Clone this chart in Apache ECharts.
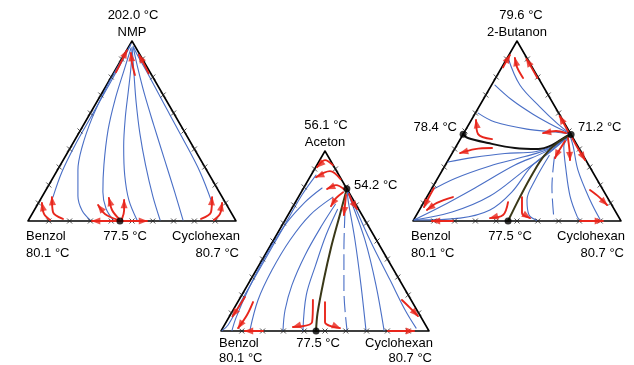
<!DOCTYPE html>
<html><head><meta charset="utf-8">
<script src="https://cdn.jsdelivr.net/npm/echarts@6/dist/echarts.min.js"></script>
<style>html,body{margin:0;padding:0;background:#fff}#c{width:634px;height:365px}</style>
</head><body><div id="c"></div><script>
// Coordinates: equilateral triangle of side 100 (x along base 0..100, y height 0..86.6)

// ---------- Triangle 1: Benzol / Cyclohexan / NMP ----------
const nmpBlue = [
  [[12.0,11.5],[16.3,23.6],[22.6,36.5],[30.8,51.0],[39.4,66.3],[46.6,79.3],[49.5,85.1]],
  [[29.8,0.5],[26.0,5.0],[24.0,12.0],[24.0,24.5],[26.0,35.6],[30.8,49.5],[37.5,63.9],[44.2,76.0],[49.0,84.1]],
  [[40.9,0.5],[37.5,6.0],[36.0,14.0],[36.5,27.0],[38.5,43.8],[41.8,58.2],[46.2,72.6],[49.5,83.2]],
  [[52.4,0.5],[48.5,10.0],[46.5,22.0],[46.0,36.0],[46.8,50.0],[48.3,63.0],[49.5,74.0],[50.0,82.5]],
  [[63.5,0.5],[60.0,12.0],[56.5,27.0],[53.8,42.0],[52.0,57.0],[51.0,70.0],[50.3,80.0],[50.0,83.5]],
  [[74.5,0.5],[70.5,14.0],[65.5,30.0],[60.5,46.0],[56.0,61.0],[52.8,73.5],[50.6,83.5]],
  [[88.5,8.7],[82.7,23.6],[74.0,40.4],[64.9,57.2],[57.7,70.7],[52.9,79.3],[50.5,84.1]]
];
const nmpRed = [
  [[10.6,0.5],[7.7,3.4],[6.7,8.7]],
  [[16.8,1.0],[12.0,4.3],[11.5,11.5]],
  [[44.2,0],[30.8,0]],
  [[44.2,0],[57.2,0]],
  [[43.3,0.5],[37.0,3.4],[33.7,7.7]],
  [[43.8,1.0],[40.4,5.3],[38.9,11.1]],
  [[45.2,1.0],[46.2,5.0],[46.2,10.1]],
  [[83.2,1.0],[88.0,4.3],[88.5,11.5]],
  [[89.4,0.5],[92.3,3.4],[93.3,8.7]],
  [[42.3,71.6],[45.2,77.4],[47.6,82.2]],
  [[51.4,70.2],[50.0,76.0],[49.5,80.8]],
  [[58.0,71.0],[55.5,76.0],[53.3,80.0]]
];
const nmpNodes = [[44.2,0]];

// ---------- Triangle 2: Benzol / Cyclohexan / Aceton ----------
const acetonBlue = [
  [[45.7,75.0],[38.9,65.4],[29.8,49.5],[20.2,32.7],[10.6,15.9],[3.4,2.9],[0.5,0.2]],
  [[48.6,68.8],[40.4,62.0],[30.8,51.0],[21.2,35.6],[13.0,19.7],[7.2,6.3],[5.3,0.3]],
  [[53.8,64.4],[42.8,55.8],[33.2,43.8],[24.5,29.3],[17.8,14.9],[13.9,0.3]],
  [[55.0,61.0],[48.6,51.0],[40.4,36.5],[34.1,22.1],[30.8,10.1],[29.8,0.3]],
  [[56.0,58.5],[50.5,46.2],[45.5,31.7],[41.0,17.3],[39.4,0.3]],
  [[60.7,67.5],[61.1,63.0],[64.4,43.8],[67.3,22.1],[69.7,0.3]],
  [[60.7,67.5],[62.0,64.0],[69.2,43.8],[74.5,22.1],[78.4,0.3]],
  [[60.7,67.5],[62.3,64.5],[71.6,43.8],[81.3,24.5],[88.5,10.1],[93.8,1.4]]
];
const acetonDashed = [
  [[59.6,57.2],[59.1,38.9],[59.1,19.7],[60.6,0.3]]
];
const acetonSeparatrix = [[60.5,68.4],[56.9,55.0],[53.0,40.5],[49.4,24.5],[46.4,8.5],[45.7,0]];
const acetonRed = [
  [[53.8,79.8],[50.0,82.2],[46.2,78.8]],
  [[57.5,73.0],[52.4,76.9],[45.7,74.0]],
  [[59.5,68.0],[55.3,70.2],[51.0,68.3]],
  [[58.7,66.8],[55.3,63.9],[52.9,60.1]],
  [[60.1,65.4],[59.6,60.6],[59.1,55.8]],
  [[61.5,65.9],[63.2,62.0],[65.4,58.7]],
  [[11.5,16.3],[8.5,11.5],[5.5,7.0]],
  [[15.4,13.9],[12.5,7.7],[8.2,1.4]],
  [[20.2,0],[11.5,0]],
  [[44.2,14.9],[43.8,4.3],[34.6,1.9]],
  [[50.0,13.9],[50.0,4.3],[57.2,1.4]],
  [[87.0,14.9],[91.0,11.0],[94.7,7.2]],
  [[80.3,0],[92.8,0]]
];
const acetonNodes = [[60.5,68.4],[45.7,0]];

// ---------- Triangle 3: Benzol / Cyclohexan / 2-Butanon ----------
const butanonBlue = [
  [[45.7,78.4],[51.4,65.4],[61.1,54.8],[69.7,46.6],[75.3,42.2]],
  [[39.4,65.4],[47.6,58.2],[57.7,51.4],[68.8,45.2],[75.3,42.2]],
  [[31.3,51.9],[39.4,47.6],[54.8,44.2],[68.3,42.8],[75.3,42.0]],
  [[16.8,28.4],[28.4,30.5],[44.2,32.5],[58.7,33.3],[68.0,36.3],[75.3,41.2]],
  [[9.0,14.9],[20.2,20.5],[37.0,26.5],[53.8,31.0],[66.0,35.0],[75.3,41.2]],
  [[0.5,0.5],[13.0,6.7],[29.8,15.9],[49.0,26.9],[64.0,33.5],[75.3,41.2]],
  [[0.5,0.5],[18.8,4.3],[37.0,12.0],[53.8,24.5],[66.0,33.2],[75.3,41.2]],
  [[1.0,0.5],[22.6,1.4],[37.0,5.3],[47.5,13.9],[57.0,26.4],[67.0,34.5],[75.3,41.2]],
  [[65.5,31.5],[58.7,19.7],[54.8,10.1],[55.8,2.9],[59.6,0.3]],
  [[75.5,41.0],[72.5,36.0],[73.5,25.0],[75.5,12.0],[79.0,2.0],[80.5,0.3]],
  [[75.5,41.0],[77.0,36.0],[79.3,24.5],[85.1,10.1],[89.9,0.8]]
];
const butanonDashed = [
  [[68.0,31.0],[66.8,16.3],[67.8,0.5]]
];
const butanonSepBlack = [[24.1,41.7],[26.4,39.9],[36.1,37.5],[49.0,35.1],[60.1,34.6],[66.8,36.5],[73.1,40.4],[76.0,41.6]];
const butanonSepOlive = [[76.0,41.6],[69.2,37.5],[63.0,31.3],[57.7,23.1],[51.4,11.5],[46.6,1.9],[45.7,0]];
const butanonRed = [
  [[43.3,74.0],[45.0,77.0],[46.6,79.8]],
  [[52.9,68.8],[50.0,74.0],[49.0,78.4]],
  [[59.8,68.8],[57.0,73.8],[54.5,78.0]],
  [[74.8,42.5],[73.8,44.5],[70.5,50.5]],
  [[73.6,42.3],[68.8,43.3],[62.5,42.3]],
  [[73.1,38.5],[69.2,32.2],[68.3,30.3]],
  [[74.5,39.9],[75.2,34.5],[75.5,29.3]],
  [[76.5,40.0],[78.9,35.6],[82.7,29.3]],
  [[85.1,14.9],[89.5,11.5],[93.3,7.7]],
  [[80.3,0],[91.3,0]],
  [[38.0,39.4],[31.3,41.8],[30.3,48.6]],
  [[38.0,35.1],[29.8,34.6],[22.6,32.7]],
  [[10.1,15.9],[7.5,11.2],[5.3,6.7]],
  [[19.2,11.5],[11.5,8.7],[6.7,5.3]],
  [[19.2,0],[9.1,0]],
  [[45.7,9.1],[43.3,2.9],[37.0,1.4]],
  [[52.4,11.5],[52.4,3.8],[56.3,1.4]]
];
const butanonNodes = [[24.1,41.7],[76.0,41.6],[45.7,0]];

// ---------- Labels ----------
const topNames = ['NMP','Aceton','2-Butanon'];
const topTemps = ['202.0 °C','56.1 °C','79.6 °C'];
const leftName = 'Benzol', leftTemp = '80.1 °C';
const rightName = 'Cyclohexan', rightTemp = '80.7 °C';
const baseAzeoTemp = '77.5 °C';
const acetonAzeoTemp = '54.2 °C';
const butanonAzeoLeft = '78.4 °C', butanonAzeoRight = '71.2 °C';
const tickFractions = [0.1,0.2,0.3,0.4,0.5,0.6,0.7,0.8,0.9];

// ---------- Build ----------
const SIDE = 100, HGT = 86.6;
const BLUE = '#4a6fc6', RED = '#e8261c', BLACK = '#111', OLIVE = '#3a3818';
const gridBoxes = [
  {left:28, top:41, width:208, height:180},
  {left:221, top:151, width:208, height:180},
  {left:413, top:41, width:208, height:180}
];
const labelGap = [[15,32],[12,27],[15,32]];
const chart = echarts.init(document.getElementById('c'), null, {renderer:'canvas'});
const series = [];
function line(gi, pts, color, width, z, extra) {
  series.push(Object.assign({
    type:'line', xAxisIndex:gi, yAxisIndex:gi, data:pts, symbol:'none', showSymbol:false,
    smooth:0.35, clip:false, silent:true, z:z, animation:false,
    lineStyle:{color:color, width:width, cap:'round', join:'round'}
  }, extra||{}));
}
function heads(arrows) {
  return arrows.map(a => {
    const p = a[a.length-1], q = a[a.length-2];
    let dx = p[0]-q[0], dy = p[1]-q[1];
    const len = Math.hypot(dx,dy)||1; dx/=len; dy/=len;
    const back = 1.8;
    return {value:[p[0]-dx*back, p[1]-dy*back], symbolRotate: Math.atan2(-dx,dy)*180/Math.PI};
  });
}
function ticks() {
  const out = [];
  tickFractions.forEach(t => {
    out.push([t*SIDE, 0]);
    out.push([t*SIDE/2, t*HGT]);
    out.push([SIDE - t*SIDE/2, t*HGT]);
  });
  return out;
}
const triangles = [
  {blue:nmpBlue, dashed:[], seps:[], red:nmpRed, nodes:nmpNodes},
  {blue:acetonBlue, dashed:acetonDashed, seps:[[acetonSeparatrix,OLIVE]], red:acetonRed, nodes:acetonNodes},
  {blue:butanonBlue, dashed:butanonDashed, seps:[[butanonSepBlack,BLACK],[butanonSepOlive,OLIVE]], red:butanonRed, nodes:butanonNodes}
];
triangles.forEach((T, gi) => {
  line(gi, [[0,0],[SIDE,0],[SIDE/2,HGT],[0,0]], '#000', 1.6, 2, {smooth:false});
  series.push({type:'scatter', xAxisIndex:gi, yAxisIndex:gi, data:ticks(), silent:true, z:3, animation:false,
    symbol:'path://M0,0L10,10M10,0L0,10', symbolSize:5,
    itemStyle:{color:'rgba(0,0,0,0)', borderColor:'#222', borderWidth:1}});
  T.blue.forEach(c => line(gi, c, BLUE, 1.1, 3));
  T.dashed.forEach(c => line(gi, c, BLUE, 1.1, 3, {lineStyle:{color:BLUE, width:1.1, type:[16,5]}}));
  T.seps.forEach(s => line(gi, s[0], s[1], 2, 4));
  T.red.forEach(c => line(gi, c, RED, 1.9, 5));
  series.push({type:'scatter', xAxisIndex:gi, yAxisIndex:gi, data:heads(T.red), silent:true, z:6, animation:false,
    symbol:'triangle', symbolSize:[7,9], itemStyle:{color:RED}});
  series.push({type:'scatter', xAxisIndex:gi, yAxisIndex:gi, data:T.nodes, silent:true, z:7, animation:false,
    symbol:'circle', symbolSize:7, itemStyle:{color:'#000'}});
});

const FONT = '13px "Liberation Sans", Arial, sans-serif';
function txt(text, x, y, align) {
  return {type:'text', x:x, y:y, silent:true, z:10,
    style:{text:text, font:FONT, fill:'#000', textAlign:align||'center', textVerticalAlign:'middle'}};
}
const graphics = [];
gridBoxes.forEach((g, i) => {
  const cx = g.left + g.width/2, base = g.top + g.height;
  const gap = labelGap[i];
  graphics.push(txt(topTemps[i], cx + (i===2?4:1), g.top - 26));
  graphics.push(txt(topNames[i], cx, g.top - 9));
  graphics.push(txt(leftName, g.left - 2, base + gap[0], 'left'));
  graphics.push(txt(leftTemp, g.left - 2, base + gap[1], 'left'));
  graphics.push(txt(rightName, g.left + g.width + 4, base + gap[0], 'right'));
  graphics.push(txt(rightTemp, g.left + g.width + 3, base + gap[1], 'right'));
  graphics.push(txt(baseAzeoTemp, g.left + g.width*0.457 + 2, base + gap[0]));
});
graphics.push(txt(acetonAzeoTemp, 354, 185, 'left'));
graphics.push(txt(butanonAzeoLeft, 457, 127, 'right'));
graphics.push(txt(butanonAzeoRight, 578, 127, 'left'));

chart.setOption({
  animation:false,
  backgroundColor:'#fff',
  grid: gridBoxes.map(g => Object.assign({containLabel:false}, g)),
  xAxis: gridBoxes.map((g,i) => ({type:'value', gridIndex:i, min:0, max:SIDE, show:false})),
  yAxis: gridBoxes.map((g,i) => ({type:'value', gridIndex:i, min:0, max:HGT, show:false})),
  series: series,
  graphic: graphics
});
</script></body></html>
